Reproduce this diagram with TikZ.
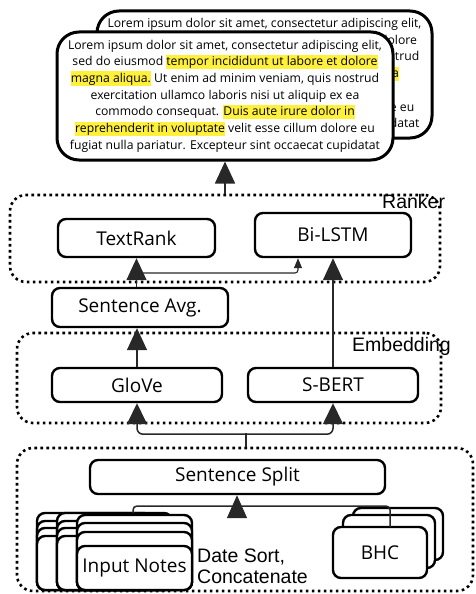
\documentclass[tikz,border=0pt]{standalone}
\usepackage{fontspec}
\setmainfont{Open Sans}
\newfontfamily\arialf{Liberation Sans}
\usetikzlibrary{arrows.meta}
\definecolor{hly}{RGB}{255,240,60}
\definecolor{lnc}{RGB}{40,40,40}
\newcommand\hlt[1]{{\setlength\fboxsep{0pt}\colorbox{hly}{\rule[-3.6pt]{0pt}{14.6pt}#1}}}
\begin{document}
\begin{tikzpicture}[x=1pt,y=-1pt,
  box/.style={draw=black, line width=2.4pt, rounded corners=8pt, fill=white, font=\fontsize{19}{22}\selectfont, inner sep=0pt},
  stk/.style={draw=black, line width=2.4pt, rounded corners=8pt, fill=white},
  group/.style={draw=black, line width=2.6pt, dash pattern=on 2.6pt off 3.4pt, rounded corners=16pt, inner sep=0pt},
  tbox/.style={draw=black, line width=3pt, rounded corners=22pt, fill=white, align=center, font=\fontsize{12.2}{16.7}\selectfont, inner sep=0pt},
  conn/.style={draw=lnc, line width=1.5pt},
  big/.style={-{Triangle[width=20pt,length=22pt]}},
  smallhead/.style={-{Triangle[width=8pt,length=10pt]}},
  lbl/.style={font=\arialf\fontsize{19.5}{21}\selectfont, anchor=base west, inner sep=0pt}
]
\useasboundingbox (0,0) rectangle (475,594);

% groups
\node[group, minimum width=430pt, minimum height=87pt] (rankergrp) at (225,238.5) {};
\node[group, minimum width=424pt, minimum height=90pt] (embgrp) at (229,378) {};
\node[group, minimum width=456pt, minimum height=143pt] (prepgrp) at (245,519.5) {};

% summary boxes
\node[tbox, minimum width=335pt, minimum height=127pt] (back) at (264.5,74.5) {Lorem ipsum dolor sit amet, consectetur adipiscing elit,\\ sed do eiusmod tempor incididunt ut labore et dolore\\ magna aliqua. Ut enim ad minim veniam, quis nostrud\\ exercitation ullamco laboris nisi ut aliquip \hlt{ex ea}\\ commodo consequat. Duis aute irure dolor in\\ reprehenderit in voluptate velit esse cillum dolore eu\\ fugiat nulla pariatur. Excepteur sint occaecat cupidatat};
\node[tbox, minimum width=336pt, minimum height=128pt] (front) at (225,96) {Lorem ipsum dolor sit amet, consectetur adipiscing elit,\\ sed do eiusmod \hlt{tempor incididunt ut labore et dolore}\\ \hlt{magna aliqua.} Ut enim ad minim veniam, quis nostrud\\ exercitation ullamco laboris nisi ut aliquip ex ea\\ commodo consequat. \hlt{Duis aute irure dolor in}\\ \hlt{reprehenderit in voluptate} velit esse cillum dolore eu\\ fugiat nulla pariatur. Excepteur sint occaecat cupidatat};

% labels
\node[lbl] (ranker) at (382,208) {Ranker};
\node[lbl] (embed) at (352,351) {Embedding};
\node[lbl] (datesort) at (197,562) {Date Sort,};
\node[lbl] (concat) at (197,583) {Concatenate};

% boxes
\node[box, minimum width=157pt, minimum height=38pt] (textrank) at (136.5,238) {TextRank};
\node[box, minimum width=156pt, minimum height=44pt] (bilstm) at (333,235) {Bi-LSTM};
\node[box, minimum width=176pt, minimum height=39pt] (savg) at (140,307.5) {Sentence Avg.};
\node[box, minimum width=170pt, minimum height=34pt] (glove) at (137,385) {GloVe};
\node[box, minimum width=170pt, minimum height=34pt] (sbert) at (333,385) {S-BERT};
\node[box, minimum width=295pt, minimum height=34pt] (ssplit) at (237.5,477) {Sentence Split};

% input notes stacks
\foreach \cx/\ta/\tb/\tc/\td in {37/513/521/528/536, 57/513/521/528/536} {
  \foreach \t in {\ta,\tb,\tc,\td} {
    \filldraw[stk] (\cx,\t) rectangle (\cx+115,590);
  }
}
\foreach \t in {515,523,532} {
  \filldraw[stk] (77,\t) rectangle (192,590);
}
\node[box, minimum width=115pt, minimum height=44pt] (notes) at (134.5,568) {Input Notes};

% BHC stack
\filldraw[stk] (353,508) rectangle (443,560);
\filldraw[stk] (343,515) rectangle (435,568);
\node[box, minimum width=94pt, minimum height=51pt] (bhc) at (380,552.5) {BHC};

% connectors
\draw[conn, big] (rankergrp.north -| front.south) -- (front.south);
\draw[conn, big] (savg.north -| textrank.south) -- (textrank.south);
\coordinate (ta) at (136.5,273);
\draw[conn, smallhead, line width=1.1pt, rounded corners=3pt] (ta) -| ([xshift=-35pt]bilstm.south);
\draw[conn, big] (sbert) -- (bilstm);
\draw[conn, big] (glove.north) -- (glove.north |- savg.south);
\draw[conn, {Triangle[width=20pt,length=21pt]}-{Triangle[width=20pt,length=21pt]}, rounded corners=6pt] (glove.south) -- ++(0,31) -| (sbert.south);
\coordinate (bmid) at (246,433);
\draw[conn] (bmid) -- (bmid |- prepgrp.north);
\coordinate (sa) at (237,517);
\draw[conn, -{Triangle[width=20pt,length=23pt]}] (sa) -- (sa |- ssplit.south);
\coordinate (nl) at (133,513);
\coordinate (nr) at (390,527);
\draw[conn, rounded corners=4pt] (nl) |- (237,506) -| (nr);
\end{tikzpicture}
\end{document}
